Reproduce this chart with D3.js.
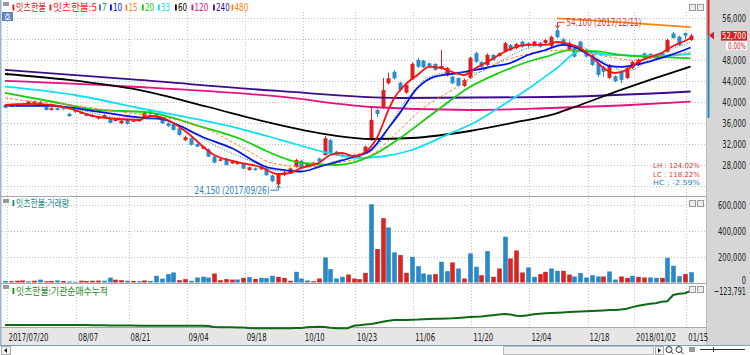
<!DOCTYPE html>
<html><head><meta charset="utf-8">
<script src="https://cdn.jsdelivr.net/npm/d3@7/dist/d3.min.js"></script>
<style>
body{margin:0;background:#fff;overflow:hidden}
svg{display:block}
.ax text,.num{font-family:"DejaVu Sans Condensed","DejaVu Sans",sans-serif;font-size:10.5px;fill:#222}
.kr{font-family:"Noto Sans CJK KR","Noto Sans",sans-serif;font-size:9px}
</style></head><body>
<svg id="c" width="750" height="355"></svg>
<script>
// ---------------- DATA ----------------
const dates = ["2017-07-20","2017-07-21","2017-07-24","2017-07-25","2017-07-26","2017-07-27","2017-07-28","2017-07-31",
"2017-08-01","2017-08-02","2017-08-03","2017-08-04","2017-08-07","2017-08-08","2017-08-09","2017-08-10","2017-08-11","2017-08-14","2017-08-16","2017-08-17","2017-08-18","2017-08-21","2017-08-22","2017-08-23","2017-08-24","2017-08-25","2017-08-28","2017-08-29","2017-08-30","2017-08-31",
"2017-09-01","2017-09-04","2017-09-05","2017-09-06","2017-09-07","2017-09-08","2017-09-11","2017-09-12","2017-09-13","2017-09-14","2017-09-15","2017-09-18","2017-09-19","2017-09-20","2017-09-21","2017-09-22","2017-09-25","2017-09-26","2017-09-27","2017-09-28","2017-09-29",
"2017-10-10","2017-10-11","2017-10-12","2017-10-13","2017-10-16","2017-10-17","2017-10-18","2017-10-19","2017-10-20","2017-10-23","2017-10-24","2017-10-25","2017-10-26","2017-10-27","2017-10-30","2017-10-31",
"2017-11-01","2017-11-02","2017-11-03","2017-11-06","2017-11-07","2017-11-08","2017-11-09","2017-11-10","2017-11-13","2017-11-14","2017-11-15","2017-11-16","2017-11-17","2017-11-20","2017-11-21","2017-11-22","2017-11-23","2017-11-24","2017-11-27","2017-11-28","2017-11-29","2017-11-30",
"2017-12-01","2017-12-04","2017-12-05","2017-12-06","2017-12-07","2017-12-08","2017-12-11","2017-12-12","2017-12-13","2017-12-14","2017-12-15","2017-12-18","2017-12-19","2017-12-20","2017-12-21","2017-12-22","2017-12-26","2017-12-27","2017-12-28",
"2018-01-02","2018-01-03","2018-01-04","2018-01-05","2018-01-08","2018-01-09","2018-01-10","2018-01-11","2018-01-12","2018-01-15","2018-01-16"];

const open  = [39450,39150,39400,39250,39650,39800,39700,39300,38500,38850,38800,37750,38400,37800,37800,37200,36850,37150,36800,36400,35950,36600,36250,36350,36950,38250,37750,37100,35950,35800,35000,32750,33100,32000,31100,31000,29600,28800,29200,28300,28200,28300,27050,27350,27200,27350,26000,24300,26100,26400,27600,28800,27800,28200,29250,29900,32750,30550,29650,29900,29600,29650,30550,32750,38500,38900,43600,45800,43700,41800,44350,48050,47900,47400,47300,46350,45100,44850,44600,43100,44600,49350,47650,47100,49000,48800,49650,50900,50300,51550,51250,50900,51350,51250,50700,53700,52000,50000,50350,51550,49950,49000,47400,46750,44650,44950,45800,44600,46500,47100,49300,49200,48400,49300,49650,53100,52500,53150,51850];
const high  = [39600,39500,39550,39550,40300,40300,40250,39500,39000,39000,38900,38000,38700,38200,37900,37700,37400,37700,36950,36800,36600,36700,36600,36700,38200,38400,37850,37200,36100,35900,35100,33600,33300,32100,31700,31150,29700,29300,29350,28900,28800,28450,27700,27550,27800,27500,26200,26200,26900,27500,29200,29000,28500,28600,29400,33500,33000,30700,30100,30000,30050,30200,31700,38900,38800,44600,45600,46100,43900,43600,47600,48400,48100,47600,47400,49950,46700,45000,44700,44500,48700,49600,47800,49300,49200,49500,51500,51100,51300,51700,51400,51700,51500,52100,52700,54100,52300,51600,50500,51700,50200,49200,47500,47000,47300,45100,46000,46700,47900,48300,49500,49400,49200,49400,52100,53400,52700,53300,53000];
const low   = [38850,39050,39050,39150,39550,39700,39550,38400,38400,38400,38550,37200,37900,37700,37250,37100,36700,37000,35950,36300,35800,35700,36150,36250,36900,37650,37150,35850,35300,34550,33600,32600,31700,31400,31000,29500,28300,28700,27900,28200,28050,27200,26900,26900,27050,25950,24700,24150,25900,26300,27500,27200,27600,28100,28500,29800,30100,29800,29500,29400,29500,29500,30400,32600,37200,38700,43400,44300,42000,41600,44200,46500,46500,46700,46000,46200,44900,43400,42900,42900,44400,47500,46500,46900,47900,48700,49500,49700,50100,50400,50500,50700,50400,51100,50500,52200,50700,49800,48500,50100,48500,46900,44800,44850,44400,43800,43600,44400,46300,46900,48200,48600,48200,48600,49500,52100,50700,52000,51700];
const close = [38950,39300,39150,39400,40100,40100,40000,38500,38850,38500,38650,37300,38150,38050,37350,37500,37200,37500,36050,36600,36450,35850,36450,36600,37950,37750,37250,35950,35450,34700,33750,33300,31850,31500,31500,29600,28450,29100,28000,28700,28600,27300,27550,27050,27650,26050,24900,26100,26600,27350,28950,27350,28300,28450,28650,33100,30300,29950,29900,29500,29900,30050,31500,36600,37750,42300,44550,44550,42300,43300,47300,46750,46650,46900,46150,46900,46500,43600,43100,44200,48450,47700,46700,49000,48050,49300,51250,49850,51100,50600,50700,51550,50600,51850,52450,52400,50900,51300,48700,50300,48700,47100,45200,45800,47100,44000,44250,46500,47700,48050,48350,48800,49000,48800,51850,52250,50900,52700,52700];

const volume = [12,10,14,16,10,14,22,10,12,16,12,8,6,14,12,14,15,14,38,22,18,14,12,10,16,12,52,30,65,78,18,26,13,39,45,39,70,18,26,23,23,36,42,28,36,34,52,44,36,13,83,31,16,10,31,195,104,31,44,62,31,26,75,608,260,500,428,234,213,75,200,127,70,62,65,161,88,156,109,31,226,122,57,244,44,109,356,187,249,78,117,44,65,83,109,91,91,62,47,73,39,57,47,47,86,23,47,36,52,44,39,39,36,36,192,130,49,65,80].map(v=>v*1000);
const volumeUp = "brrrbrbrrbrbbrrrrbbrrbrbrbbbbbrrbbbbrrrrbrbrbbbrrrbbbrrbbbbrrrrbrrbbrrbbbbrbbrbrbbrbrrbrrrbbrrbbrrbbbbbrbbrrbrrbbrbbbr".split("").map(c=>c==="r");

const inst = [-938000,-938000,-939000,-939000,-940000,-940000,-940000,-940500,-941000,-941000,-941000,-941000,-942000,-942000,-942000,-943000,-943000,-944000,
-950000,-951000,-952000,-953000,-954000,-955000,-955000,-956000,-956000,-957000,-957000,-957000,-958000,-958000,-958000,-959000,-960000,-962000,
-985000,-993000,-995000,-996000,-997000,-998000,
-1010000,-1015000,-1018000,-1019000,-1019000,-1018000,-1017000,-1016000,-1014000,-1010000,
-995000,-985000,-983000,-990000,-1005000,-1015000,-1018000,-1017000,
-957000,-945000,-930000,-915000,-890000,-862000,-835000,-822000,-820000,-818000,-812000,-808000,-800000,-796000,-792000,-788000,-784000,-779000,-770000,-760000,-750000,-741000,-736000,-720000,-705000,-690000,-676000,-690000,-716000,-724000,-705000,-680000,-668000,-659000,-652000,-645000,-638000,-630000,-621000,-618000,-612000,-605000,-598000,-590000,-580000,-578000,-570000,-549000,-510000,-480000,-455000,-432000,-419000,-381000,-370000,-220000,-190000,-179000,-123791];

// moving averages: [bar index, price]
const ma5 = [[0,39450],[4,39650],[8,39450],[11,38800],[16,37160],[23,36590],[25,37350],[28,36590],[31,34490],[36,29910],[40,28570],[44,27620],[47,26280],[49,26470],[51,27430],[54,28380],[56,29910],[58,30290],[60,29720],[62,30480],[64,33150],[66,38500],[67,40790],[69,43460],[71,45180],[73,46710],[75,46520],[77,45750],[79,45180],[81,46520],[83,47660],[85,49000],[87,50150],[90,50910],[93,50910],[95,51480],[97,51100],[99,50340],[101,48620],[103,46520],[105,45560],[107,46140],[109,47660],[111,48620],[113,49380],[115,50720],[117,51670],[118,52250]];
const ma7 = [[0,39400],[10,39000],[20,37000],[25,36900],[30,35700],[36,31800],[42,28900],[47,26900],[52,27000],[57,28800],[61,29700],[64,31500],[67,37000],[70,41800],[73,44800],[77,45700],[81,45600],[85,47700],[90,50300],[95,51100],[99,50700],[103,47700],[107,45900],[111,47900],[115,50200],[118,51400]];
const ma10 = [[0,39320],[8,39300],[16,38180],[24,36970],[27,36780],[29,36020],[34,33350],[39,31250],[45,27620],[48,27050],[51,26760],[54,27620],[57,28570],[60,29530],[63,30860],[66,35060],[68,38000],[71,42700],[74,44860],[78,45560],[81,46140],[84,46810],[87,47470],[90,49000],[93,49950],[96,50910],[98,50530],[100,49380],[102,48040],[104,46900],[106,46710],[108,47000],[110,47470],[113,48430],[116,49570],[118,50430]];
const ma15 = [[0,40790],[4,40220],[10,39650],[20,38120],[28,36970],[35,34680],[41,31250],[46,28380],[52,27620],[58,28570],[63,29910],[67,33730],[72,38880],[77,42320],[83,46520],[90,49190],[97,49950],[103,48810],[108,48040],[113,48620],[118,49570]];
const ma20 = [[0,41750],[8,40120],[16,38500],[24,38120],[34,35250],[41,32770],[45,30670],[51,28380],[57,28000],[63,29720],[68,33150],[74,38120],[80,42890],[85,45560],[91,48040],[93,48620],[97,49860],[102,49670],[106,49000],[112,48620],[118,48370]];
const ma33 = [[0,42950],[12,41360],[23,38880],[39,35310],[47,32960],[55,30480],[61,29340],[65,29620],[70,30860],[76,33730],[81,36210],[86,39650],[91,43270],[95,46520],[99,49760],[104,49000],[112,48810],[118,49190]];
const ma60 = [[0,45370],[11,44230],[23,42320],[35,39070],[45,36210],[56,33730],[63,32960],[70,33150],[80,34490],[89,36400],[94,37550],[98,39070],[106,42320],[111,44230],[118,46800]];
const ma120 = [[0,44040],[23,42890],[47,41080],[63,39070],[80,38500],[94,38880],[106,39360],[118,40080]];
const ma240 = [[0,46140],[23,44230],[47,42130],[68,40790],[94,40980],[118,42030]];
const ma480 = [[95,56000],[105,55300],[118,54300]];

const maPeriods = ["5","7","10","15","20","33","60","120","240","480"];
const maColors  = ["#ff1010","#108888","#0010e8","#ff8030","#10d010","#10e0f0","#000000","#e8107f","#3c0a8c","#ff8010"];

const priceTicks = [28000,32000,36000,40000,44000,48000,52000,56000];
const volTicks = [0,200000,400000,600000];
const tickDates = ["2017-07-20","2017-08-07","2017-08-21","2017-09-04","2017-09-18","2017-10-10","2017-10-23","2017-11-06","2017-11-20","2017-12-04","2017-12-18","2018-01-02","2018-01-15"];
const tickLabels = ["2017/07/20","08/07","08/21","09/04","09/18","10/10","10/23","11/06","11/20","12/04","12/18","2018/01/02","01/15"];

const lastPrice = 52700, changePct = "0.00%";
const hiLabel = "54,100 (2017/12/11)", loLabel = "24,150 (2017/09/26)";
const statLabels = ["LH : 124.02%","LC : 118.22%","HC :  -2.59%"];

// ---------------- DRAW ----------------
const svg = d3.select("#c");
const RED = "#dc2020", BLUE = "#2a8ccc";
const PR = 706; // plot right edge

// narrow bitmap-like numerals: squeeze each text horizontally to the reference width
const CW = {",":2.2,".":2.2,"/":2.8,"%":6,"-":3," ":2.3,":":2,"(":2.6,")":2.6,"L":4.3,"H":4.8,"C":4.8};
const tw = s => [...s].reduce((a,c)=>a+(CW[c]!==undefined?CW[c]:4.3),0);
function squeeze(sel, w){
  sel.each(function(){
    const t = d3.select(this);
    const nat = this.getComputedTextLength();
    const target = (w===undefined) ? tw(t.text()) : w;
    const k = nat>0 ? target/nat : 1;
    const tx = +(t.attr("x")||0), ty = +(t.attr("y")||0);
    t.attr("x",0).attr("y",0).attr("transform",`translate(${tx},${ty}) scale(${k},1)`);
  });
}

const x = d3.scalePoint().domain(dates).range([5, 5 + 5.81*(dates.length-1)]);
const y = d3.scaleLinear().domain([28000,56000]).range([165,18.3]);
const yv = d3.scaleLinear().domain([0,600000]).range([282.5,205.3]);
const yi = d3.scaleLinear().domain([-1123791,-123791]).range([332.7,291]);

svg.append("rect").attr("width",750).attr("height",355).attr("fill","#fff");
svg.append("rect").attr("x",PR+1).attr("y",0).attr("width",750-PR).attr("height",345).attr("fill","#d6d6d6");
svg.append("rect").attr("x",0).attr("y",328).attr("width",PR+1).attr("height",17).attr("fill","#e6e6e6");
svg.append("line").attr("x1",PR+0.5).attr("x2",PR+0.5).attr("y1",0).attr("y2",345).attr("stroke","#b8b8b8");
svg.append("rect").attr("x",0).attr("y",0).attr("width",1.5).attr("height",355).attr("fill","#9fb4cc");

// grids
const grid = svg.append("g").attr("stroke","#c4c4c4").attr("stroke-dasharray","1,2");
[24000].concat(priceTicks).forEach(p=>grid.append("line").attr("x1",2).attr("x2",PR).attr("y1",Math.round(y(p))+0.5).attr("y2",Math.round(y(p))+0.5));
volTicks.slice(1).forEach(v=>grid.append("line").attr("x1",2).attr("x2",PR).attr("y1",Math.round(yv(v))+0.5).attr("y2",Math.round(yv(v))+0.5));
tickDates.forEach(d=>{const gx=Math.round(x(d)+1.5)+0.5;
  [[12,196],[198,283],[285,327]].forEach(r=>grid.append("line").attr("x1",gx).attr("x2",gx).attr("y1",r[0]).attr("y2",r[1]));});

[196.5,283.5,327.5].forEach(yy=>svg.append("line").attr("x1",0).attr("x2",PR).attr("y1",yy).attr("y2",yy).attr("stroke","#a8a8a8"));

svg.append("clipPath").attr("id","mc").append("rect").attr("x",1).attr("y",12).attr("width",PR-1).attr("height",184);
const main = svg.append("g").attr("clip-path","url(#mc)");

// candles
const cg = main.append("g");
dates.forEach((d,i)=>{
  const up = close[i] >= open[i];
  const col = up ? RED : BLUE;
  const cx = Math.round(x(d));
  cg.append("line").attr("x1",cx+0.5).attr("x2",cx+0.5).attr("y1",y(high[i])).attr("y2",y(low[i])).attr("stroke",col);
  const top = y(Math.max(open[i],close[i])), bot = y(Math.min(open[i],close[i]));
  cg.append("rect").attr("x",cx-1.5).attr("y",top).attr("width",4).attr("height",Math.max(1,bot-top)).attr("fill",col);
});

// moving averages
const maData = [ma480,ma240,ma120,ma60,ma33,ma20,ma15,ma10,ma7,ma5];
const maIdx = [9,8,7,6,5,4,3,2,1,0];
const line = d3.line().x(d=>x(dates[d[0]])).y(d=>y(d[1])).curve(d3.curveMonotoneX);
maData.forEach((arr,k)=>{
  const j = maIdx[k];
  const p = main.append("path").attr("d",line(arr)).attr("fill","none").attr("stroke",maColors[j]);
  if (maPeriods[j]==="7") p.attr("stroke-width",1).attr("stroke-dasharray","1,1.5");
  else if (maPeriods[j]==="15") p.attr("stroke-width",1).attr("stroke-dasharray","3,2");
  else p.attr("stroke-width",1.8);
});

// volume bars
const vg = svg.append("g");
dates.forEach((d,i)=>{
  const cx = Math.round(x(d));
  vg.append("rect").attr("x",cx-1.8).attr("y",yv(volume[i])).attr("width",4.6).attr("height",yv(0)-yv(volume[i]))
    .attr("fill",volumeUp[i]?"#d42626":"#2888c8");
});

// institution cumulative line
svg.append("path").attr("d",d3.line().x((v,i)=>x(dates[i])).y(v=>yi(v))(inst))
  .attr("fill","none").attr("stroke","#0c6a14").attr("stroke-width",2);

// right axes (52,000 label sits under the current-price box)
const ya = svg.append("g").attr("class","ax").attr("transform","translate(746,0)")
  .call(d3.axisLeft(y).tickValues(priceTicks.filter(p=>Math.abs(y(p)-y(lastPrice))>8)).tickFormat(d3.format(",")).tickSize(0).tickPadding(0));
ya.select(".domain").remove();
squeeze(ya.selectAll("text"));
const va = svg.append("g").attr("class","ax").attr("transform","translate(746,0)")
  .call(d3.axisLeft(yv).tickValues(volTicks).tickFormat(d3.format(",")).tickSize(0).tickPadding(0));
va.select(".domain").remove();
va.selectAll("text").filter(d=>d===0).attr("dy","0.1em");
squeeze(va.selectAll("text"));
squeeze(svg.append("text").attr("class","num").attr("x",746).attr("y",yi(inst[inst.length-1])+4).attr("text-anchor","end").text(d3.format(",")(inst[inst.length-1])));

// x axis
const xa = svg.append("g").attr("class","ax").attr("transform","translate(0,328)")
  .call(d3.axisBottom(x).tickValues(tickDates).tickFormat((d,i)=>tickLabels[i]).tickSize(0).tickPadding(0));
xa.select(".domain").remove();
xa.selectAll("text").attr("text-anchor","start").attr("x",3).attr("y",13).attr("dy",0);
squeeze(xa.selectAll("text"));

// price range bar on the axis edge
svg.append("line").attr("x1",708.5).attr("x2",708.5).attr("y1",0).attr("y2",y(lastPrice)).attr("stroke","#d42020").attr("stroke-width",2);
svg.append("line").attr("x1",708.5).attr("x2",708.5).attr("y1",y(lastPrice)).attr("y2",118).attr("stroke","#2a88c8").attr("stroke-width",2);
svg.append("path").attr("d",`M709,${y(lastPrice)} L714,${y(lastPrice)-4} L714,${y(lastPrice)+4}Z`).attr("fill","#d42020");
svg.append("rect").attr("x",721).attr("y",y(lastPrice)-4.5).attr("width",26).attr("height",9.5).attr("fill","#d42020");
squeeze(svg.append("text").attr("class","num").attr("x",746).attr("y",y(lastPrice)+3.5).attr("text-anchor","end").style("fill","#fff").style("font-size","9.5px").text(d3.format(",")(lastPrice)), 24);
svg.append("rect").attr("x",726).attr("y",y(lastPrice)+5.5).attr("width",21).attr("height",9).attr("fill","#fff");
squeeze(svg.append("text").attr("class","num").attr("x",746).attr("y",y(lastPrice)+13).attr("text-anchor","end").style("fill","#d42020").style("font-size","9px").text(changePct), 18);

// annotations
const hx = Math.round(x("2017-12-11"))+0.5, lx = Math.round(x("2017-09-26"))+0.5;
svg.append("path").attr("d",`M${hx+7},${y(54100)-6} H${hx} V${y(54100)-1}`).attr("fill","none").attr("stroke","#e03030");
svg.append("path").attr("d",`M${hx-2},${y(54100)-3} L${hx},${y(54100)} L${hx+2},${y(54100)-3}`).attr("fill","none").attr("stroke","#e03030");
squeeze(svg.append("text").attr("class","num").attr("x",hx+9).attr("y",y(54100)-2.5).style("fill","#e03838").text(hiLabel), 75);
svg.append("path").attr("d",`M${lx-8},${y(24150)+5} H${lx} V${y(24150)+1}`).attr("fill","none").attr("stroke","#2a80c0");
svg.append("path").attr("d",`M${lx-2},${y(24150)+3} L${lx},${y(24150)} L${lx+2},${y(24150)+3}`).attr("fill","none").attr("stroke","#2a80c0");
squeeze(svg.append("text").attr("class","num").attr("x",lx-9).attr("y",y(24150)+8.5).attr("text-anchor","end").style("fill","#2a80c0").text(loLabel), 75);
const statCol = ["#e03838","#e03838","#2a80c0"];
statLabels.forEach((t,i)=>squeeze(svg.append("text").attr("class","num").attr("x",700).attr("y",168.3+i*8.3).attr("text-anchor","end")
  .style("fill",statCol[i]).style("font-size","7px").text(t), 47));

// legend
const legend = [
 {t:"잇츠한불",c:"#d01818",mx:12.5,tx:16,tw:30},
 {t:"잇츠한불:"+maPeriods[0],c:maColors[0],mx:49.5,tx:53,tw:44}];
const lx0 = [99,110,125.5,142,158,175,191.5,213,231.5];
maPeriods.slice(1).forEach((p,i)=>legend.push({t:p,c:maColors[i+1],mx:lx0[i],tx:lx0[i]+3,tw:p.length*4.6}));
legend.forEach(L=>{
  svg.append("rect").attr("x",L.mx).attr("y",4.5).attr("width",1.8).attr("height",6).attr("fill",L.c);
  const t = svg.append("text").attr("class", /[가-힣]/.test(L.t)?"kr":"num").attr("x",L.tx).attr("y",11).style("fill",L.c)
    .style("font-size","10px").text(L.t);
  squeeze(t, L.tw);
});
[["잇츠한불:거래량","#168a8a",206.5,53],["잇츠한불:기관순매수누적","#1c8a1c",294.5,92]].forEach(a=>{
  svg.append("rect").attr("x",12.5).attr("y",a[2]-6.5).attr("width",1.8).attr("height",6).attr("fill",a[1]);
  squeeze(svg.append("text").attr("class","kr").attr("x",16).attr("y",a[2]).style("fill",a[1]).style("font-size","10px").text(a[0]), a[3]);
});
[[2,199],[2,285]].forEach(p=>{svg.append("rect").attr("x",p[0]+1).attr("y",p[1]).attr("width",6).attr("height",4).attr("fill","#9a9a9a");});
svg.append("rect").attr("x",3).attr("y",2).attr("width",6).attr("height",4).attr("fill","#9a9a9a");
svg.append("rect").attr("x",2).attr("y",12).attr("width",11).attr("height",9).attr("fill","#5d84b6");
svg.append("text").attr("class","kr").attr("x",7.5).attr("y",19.5).attr("text-anchor","middle").style("fill","#fff").style("font-size","8px").text("호");
[4,200,286].forEach(yy=>{[689,697].forEach(xx=>svg.append("rect").attr("x",xx+0.5).attr("y",yy+0.5).attr("width",6).attr("height",6)
  .attr("fill","#eee").attr("stroke","#999"));});

// scrollbar row
svg.append("rect").attr("x",0).attr("y",345).attr("width",750).attr("height",10).attr("fill","#fff");
svg.append("line").attr("x1",0).attr("x2",750).attr("y1",345.5).attr("y2",345.5).attr("stroke","#7f9db9");
svg.append("rect").attr("x",1.5).attr("y",346.5).attr("width",9).attr("height",8).attr("fill","#f4f4f4").attr("stroke","#aaa");
svg.append("path").attr("d","M4,350.5 L7,348 L7,353Z").attr("fill","#222");
svg.append("rect").attr("x",503.5).attr("y",346.5).attr("width",150).attr("height",8).attr("fill","#f0f0f0").attr("stroke","#bbb");
svg.append("rect").attr("x",655.5).attr("y",346.5).attr("width",8).attr("height",8).attr("fill","#f4f4f4").attr("stroke","#aaa");
svg.append("path").attr("d","M658,348 L661,350.5 L658,353Z").attr("fill","#222");
[669,679].forEach(cx=>{svg.append("circle").attr("cx",cx).attr("cy",349.5).attr("r",3).attr("fill","none").attr("stroke","#333");
  svg.append("line").attr("x1",cx+2).attr("x2",cx+4.5).attr("y1",351.5).attr("y2",354).attr("stroke","#333");});
svg.append("path").attr("d","M690,347V352M692,347V352M694,347V352").attr("stroke","#333");
svg.append("line").attr("x1",700).attr("x2",745).attr("y1",349.5).attr("y2",349.5).attr("stroke","#333");
svg.append("line").attr("x1",713.5).attr("x2",713.5).attr("y1",347).attr("y2",352).attr("stroke","#333");
</script></body></html>
